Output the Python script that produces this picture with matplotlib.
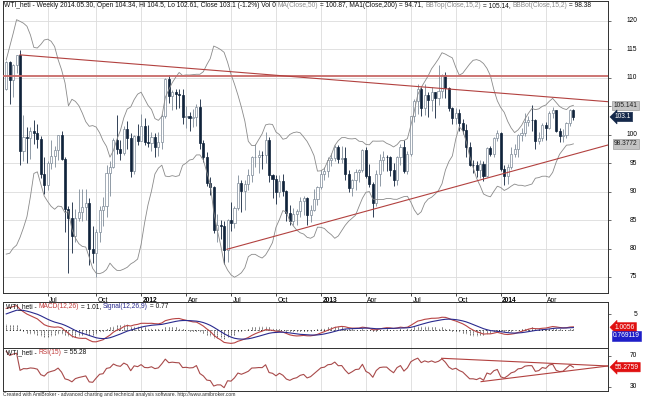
import numpy as np
import pandas as pd
import matplotlib
matplotlib.use("Agg")
import matplotlib.pyplot as plt
import matplotlib.transforms as mtransforms

plt.rcParams['font.family'] = ['Liberation Sans', 'DejaVu Sans']

# weekly WTI bars, 2011-04-08 .. 2014-05-30
first_week = "2011-04-08"

# earlier weeks (Jul 2010 - Apr 2011), only used to warm up the indicators
warmup_close = [72.14, 76.09, 76.01, 78.98, 78.95, 80.70, 75.39, 73.46, 75.17, 74.60,
                76.45, 73.66, 76.49, 81.58, 82.66, 81.25, 81.69, 81.43, 86.85, 84.88,
                81.51, 83.76, 89.19, 87.79, 88.02, 91.00, 91.38, 88.03, 91.54, 89.11,
                89.34, 89.03, 85.58, 86.20, 97.88, 104.42, 101.16, 101.07, 105.40, 107.94]

bar_close = [112.79, 109.66, 112.29, 113.93, 97.18, 99.65, 99.49, 100.59, 100.22, 99.29,
             93.01, 91.16, 94.94, 96.20, 97.24, 99.87, 95.70, 86.88, 85.38, 82.26,
             85.37, 86.45, 87.24, 87.96, 79.85, 79.20, 82.98, 86.80, 87.40, 93.32,
             94.26, 98.99, 97.41, 96.77, 100.96, 99.41, 93.53, 99.68, 98.83,
             101.56, 98.70, 98.46, 99.56, 97.84, 98.67, 103.24, 109.77, 106.70, 107.40,
             107.06, 106.87, 103.02, 103.31, 102.83, 103.05, 104.93, 98.49, 96.13, 91.48,
             90.86, 83.23, 84.10, 84.03, 79.76, 84.96, 84.45, 87.10, 91.44, 90.13,
             91.40, 92.87, 96.01, 96.15, 96.47, 96.42, 99.00, 92.89, 92.19, 89.88,
             91.86, 90.05, 86.28, 84.86, 86.07, 86.67, 88.28, 88.91, 85.93, 86.73,
             88.66, 90.80,
             93.09, 93.56, 95.56, 95.88, 97.77, 95.72, 95.86, 93.13, 90.68, 91.95,
             93.45, 93.71, 97.23, 92.70, 91.29, 88.01, 93.00, 95.61, 96.04, 96.02,
             93.84, 91.97, 96.03, 97.85, 93.69, 96.56, 103.22, 105.95, 108.05, 104.70,
             106.94, 106.03, 107.46, 106.42, 107.65, 110.53, 108.21, 104.67, 102.87, 103.84,
             102.02, 100.81, 97.85, 94.61, 94.60, 93.84, 94.84, 92.72, 97.65, 96.60,
             99.32, 100.32,
             93.96, 92.72, 94.37, 96.64, 97.49, 99.88, 100.30, 102.20, 102.59, 102.58,
             98.89, 99.46, 101.67, 101.14, 103.74, 104.30, 100.60, 99.76, 99.99, 102.02,
             104.35, 103.10]

bar_open = [108.00, 112.79, 109.66, 112.29, 113.93, 97.18, 99.65, 99.49, 100.59, 100.22,
            99.29, 93.01, 91.16, 94.94, 96.20, 97.24, 99.87, 95.70, 86.88, 85.38,
            82.26, 85.37, 86.45, 87.24, 87.96, 79.85, 79.20, 82.98, 86.80, 87.40,
            93.32, 94.26, 98.99, 97.41, 96.77, 100.96, 99.41, 93.53, 99.68,
            98.83, 101.56, 98.70, 98.46, 99.56, 97.84, 98.67, 103.24, 109.77, 106.70,
            107.40, 107.06, 106.87, 103.02, 103.31, 102.83, 103.05, 104.93, 98.49, 96.13,
            91.48, 90.86, 83.23, 84.10, 84.03, 79.76, 84.96, 84.45, 87.10, 91.44,
            90.13, 91.40, 92.87, 96.01, 96.15, 96.47, 96.42, 99.00, 92.89, 92.19,
            89.88, 91.86, 90.05, 86.28, 84.86, 86.07, 86.67, 88.28, 88.91, 85.93,
            86.73, 88.66,
            90.80, 93.09, 93.56, 95.56, 95.88, 97.77, 95.72, 95.86, 93.13, 90.68,
            91.95, 93.45, 93.71, 97.23, 92.70, 91.29, 88.01, 93.00, 95.61, 96.04,
            96.02, 93.84, 91.97, 96.03, 97.85, 93.69, 96.56, 103.22, 105.95, 108.05,
            104.70, 106.94, 106.03, 107.46, 106.42, 107.65, 110.53, 108.21, 104.67, 102.87,
            103.84, 102.02, 100.81, 97.85, 94.61, 94.60, 93.84, 94.84, 92.72, 97.65,
            96.60, 99.32,
            100.32, 93.96, 92.72, 94.37, 96.64, 97.49, 99.88, 100.30, 102.20, 102.59,
            102.58, 98.89, 99.46, 101.67, 101.14, 103.74, 104.30, 100.60, 99.76, 99.99,
            102.02, 104.34]

bar_high = [112.9, 113.0, 112.4, 114.0, 114.8, 103.4, 101.4, 101.4, 102.5, 101.8,
            99.8, 96.0, 95.4, 99.0, 98.0, 100.0, 100.6, 96.0, 87.5, 88.2,
            86.9, 90.5, 90.5, 90.5, 88.9, 84.0, 83.4, 87.5, 89.0, 94.7,
            95.4, 99.4, 103.4, 99.0, 101.5, 102.4, 100.3, 100.0, 101.8,
            103.7, 103.0, 101.7, 100.5, 100.3, 100.4, 103.7, 109.9, 110.55, 107.9,
            108.0, 108.0, 108.0, 105.0, 104.0, 104.5, 105.3, 106.3, 99.0, 96.9,
            92.6, 91.0, 86.0, 85.0, 84.9, 85.1, 88.2, 87.5, 92.9, 92.0,
            92.0, 94.0, 96.3, 98.3, 97.3, 97.2, 100.4, 99.5, 93.1, 92.9,
            92.9, 93.0, 90.3, 87.7, 87.2, 87.0, 89.0, 89.3, 89.0, 87.7,
            90.5, 91.0,
            93.8, 94.4, 96.1, 96.8, 98.2, 98.2, 98.0, 97.8, 93.7, 92.2,
            94.0, 94.0, 97.4, 97.8, 94.8, 91.7, 93.7, 96.6, 97.1, 96.5,
            96.3, 95.1, 96.2, 98.3, 99.0, 97.2, 103.3, 106.3, 108.9, 108.4,
            108.9, 107.4, 108.3, 107.5, 112.2, 110.7, 111.0, 108.3, 104.9, 104.6,
            104.5, 102.7, 101.9, 98.7, 95.6, 95.3, 95.6, 95.4, 97.9, 98.0,
            99.5, 100.8,
            100.4, 94.6, 94.9, 97.8, 98.3, 100.1, 101.1, 103.8, 103.2, 105.2,
            102.7, 100.4, 102.0, 102.2, 104.2, 104.8, 104.4, 101.2, 101.0, 102.3,
            104.5, 104.5]

bar_low = [107.8, 105.3, 106.6, 110.8, 94.6, 95.3, 95.0, 95.8, 98.4, 97.7,
           92.4, 89.6, 90.3, 94.0, 94.3, 95.5, 95.5, 82.9, 75.7, 79.2,
           81.2, 84.8, 84.8, 85.0, 77.1, 77.5, 74.95, 81.2, 84.0, 85.5,
           89.2, 94.2, 96.6, 95.5, 96.5, 97.5, 92.5, 93.1, 98.1,
           98.8, 98.1, 97.9, 97.2, 96.1, 96.3, 97.5, 103.0, 105.5, 104.3,
           104.5, 104.6, 101.8, 101.2, 100.7, 101.4, 101.5, 97.5, 95.2, 90.9,
           89.4, 82.7, 81.2, 81.7, 77.3, 77.6, 83.0, 83.6, 86.8, 86.4,
           86.7, 90.2, 91.6, 94.4, 93.3, 94.0, 95.1, 91.6, 88.9, 87.8,
           89.0, 89.3, 84.8, 84.1, 84.1, 84.1, 85.6, 85.8, 84.1, 84.7,
           86.5, 87.6,
           90.5, 92.0, 92.5, 94.5, 95.3, 95.1, 95.0, 92.0, 89.9, 89.3,
           90.2, 91.7, 93.5, 92.3, 90.8, 85.6, 87.5, 90.9, 93.6, 93.6,
           92.8, 90.9, 91.2, 94.6, 93.2, 93.0, 96.2, 102.2, 103.7, 103.3,
           103.4, 103.1, 104.2, 102.9, 105.2, 106.4, 106.4, 104.1, 101.9, 101.9,
           100.6, 100.1, 96.0, 94.5, 93.2, 92.6, 92.4, 91.8, 92.5, 96.3,
           96.0, 98.8,
           93.6, 91.2, 91.3, 93.9, 96.0, 96.1, 98.9, 99.7, 101.6, 100.6,
           97.4, 98.3, 98.8, 99.0, 100.9, 103.0, 100.5, 98.7, 98.7, 99.4,
           101.6, 102.61]

# hand drawn trend lines: (bar, value) start and end
price_down_line = [(4.0, 114.0), (174.0, 105.78)]
price_up_line = [(63.8, 79.86), (174.0, 98.18)]
price_flat_level = 110.29
rsi_down_line = [(125.9, 66.7), (174.0, 56.8)]
rsi_up_line = [(137.3, 36.7), (174.0, 56.8)]

# 105 sits under the 105.141 marker box, so it is not printed
price_ticks = [75, 80, 85, 90, 95, 100, 105, 110, 115, 120]
price_tick_text = [75, 80, 85, 90, 95, 100, 110, 115, 120]

# ---- indicators ----
n0 = len(warmup_close)
allc = pd.Series(warmup_close + bar_close)
mid = allc.rolling(15).mean()
sd = allc.rolling(15).std(ddof=0)
bb_top = (mid + 2 * sd).values[n0:]
bb_bot = (mid - 2 * sd).values[n0:]
macd_all = allc.ewm(span=12, adjust=False).mean() - allc.ewm(span=26, adjust=False).mean()
sig_all = macd_all.ewm(span=9, adjust=False).mean()
macd = macd_all.values[n0:]
signal = sig_all.values[n0:]
hist = macd - signal
delta = allc.diff().fillna(0)
gain = delta.clip(lower=0).ewm(alpha=1 / 15, adjust=False).mean()
loss = (-delta.clip(upper=0)).ewm(alpha=1 / 15, adjust=False).mean()
rsi = (100 - 100 / (1 + gain / loss)).values[n0:]

o = np.array(bar_open)
h = np.array(bar_high)
l = np.array(bar_low)
c = np.array(bar_close)
x = np.arange(len(c))
dates = pd.date_range(first_week, periods=len(c), freq="7D")

tick_pos, tick_lab = [], []
for i in range(1, len(dates)):
    if dates[i].month != dates[i - 1].month and dates[i].month in (1, 4, 7, 10):
        tick_pos.append(i)
        tick_lab.append(str(dates[i].year) if dates[i].month == 1 else dates[i].strftime("%b"))

# ---- layout ----
W, H = 645, 399
fig = plt.figure(figsize=(6.45, 3.99), dpi=100)
fig.patch.set_facecolor("white")
FS = 4.8
XL = (-0.84, 174.0)


def panel(top, bottom):
    a = fig.add_axes([3.3 / W, 1 - bottom / H, (608 - 3.3) / W, (bottom - top) / H])
    a.set_xlim(*XL)
    a.set_xticks(tick_pos)
    a.grid(True, axis="x", color="#dcdcdc", lw=0.6)
    a.set_axisbelow(True)
    for s in a.spines.values():
        s.set_color("#303030")
        s.set_linewidth(0.7)
    a.tick_params(axis="y", left=False, labelleft=False, right=True, labelright=False,
                  direction="out", length=2, width=0.5, color="#303030")
    return a


ax = panel(0.5, 292.7)
axm = panel(301.7, 348.3)
axr = panel(348.3, 391)

# main price panel
ax.set_ylim(72.24, 123.55)
ax.set_yticks(price_ticks)
ax.grid(True, axis="y", color="#dcdcdc", lw=0.6)
ax.set_xticklabels(tick_lab)
ax.tick_params(axis="x", direction="out", length=2.5, width=0.5, pad=0.3, labelsize=FS)
shift = mtransforms.ScaledTranslation(1.5 / 100, 0, fig.dpi_scale_trans)
for lbl, txt in zip(ax.get_xticklabels(), tick_lab):
    lbl.set_ha("left")
    lbl.set_transform(lbl.get_transform() + shift)
    if txt.isdigit():
        lbl.set_fontweight("bold")

upc, dnc = "#7d8a98", "#10233b"
up = c >= o
ax.vlines(x[up], l[up], h[up], color=upc, lw=0.6, zorder=2)
ax.vlines(x[~up], l[~up], h[~up], color=dnc, lw=0.6, zorder=2)
ax.bar(x[up], c[up] - o[up], bottom=o[up], width=0.6, color="white", edgecolor=upc, lw=0.5, zorder=3)
ax.bar(x[~up], c[~up] - o[~up], bottom=o[~up], width=0.6, color=dnc, edgecolor=dnc, lw=0.5, zorder=3)

ax.plot(x, bb_top, color="#8a8a8a", lw=0.6, zorder=4)
ax.plot(x, bb_bot, color="#8a8a8a", lw=0.6, zorder=4)

tl_col = "#b2413f"
ax.axhline(price_flat_level, color="#c86a68", lw=1.3, zorder=4)
ax.plot(*zip(*price_down_line), color=tl_col, lw=0.8, zorder=4)
ax.plot(*zip(*price_up_line), color=tl_col, lw=0.8, zorder=4)

ytr = ax.get_yaxis_transform()
for v in price_tick_text:
    ax.text(1 + 29 / 604.7, v, str(v), transform=ytr, ha="right", va="center", fontsize=FS, clip_on=False)

box_kw = dict(transform=ytr, ha="left", va="center", fontsize=FS, clip_on=False, zorder=10)
ax.text(1 + 5.5 / 604.7, bb_top[-1], "105.141", color="#202020",
        bbox=dict(boxstyle="square,pad=0.18", fc="#c4c4c4", ec="#8a8a8a", lw=0.4), **box_kw)
ax.text(1 + 6 / 604.7, bb_bot[-1], "98.3772", color="#202020",
        bbox=dict(boxstyle="square,pad=0.18", fc="#c4c4c4", ec="#8a8a8a", lw=0.4), **box_kw)
ax.text(1 + 7 / 604.7, c[-1], "103.1", color="white",
        bbox=dict(boxstyle="larrow,pad=0.18", fc="#14284a", ec="#14284a", lw=0.4), **box_kw)

# MACD panel
axm.set_ylim(-5.83, 9.01)
axm.set_yticks([5])
axm.set_xticklabels([])
axm.tick_params(axis="x", length=0)
axm.plot([x[0], x[-1]], [0, 0], color="#202020", lw=0.7, ls=(0, (1, 2.4)), zorder=2)
axm.vlines(x, 0, hist, color="#202020", lw=0.7, linestyles=(0, (1, 1)), zorder=2)
axm.plot(x, macd, color="#b84444", lw=0.8, zorder=3)
axm.plot(x, signal, color="#2a2a8e", lw=0.8, zorder=3)
mtr = axm.get_yaxis_transform()
axm.text(1 + 29 / 604.7, 5, "5", transform=mtr, ha="right", va="center", fontsize=FS, clip_on=False)
axm.text(1 + 7 / 604.7, 0.85, "1.0056", transform=mtr, ha="left", va="center", fontsize=FS,
         color="white", clip_on=False, zorder=10,
         bbox=dict(boxstyle="larrow,pad=0.18", fc="#e01010", ec="#e01010", lw=0.4))
axm.text(1 + 5 / 604.7, -1.85, "0.769119", transform=mtr, ha="left", va="center", fontsize=FS,
         color="white", clip_on=False, zorder=10,
         bbox=dict(boxstyle="square,pad=0.18", fc="#1e1ec8", ec="#1e1ec8", lw=0.4))

# RSI panel
axr.set_ylim(24.7, 79.5)
axr.set_yticks([30, 70])
axr.set_xticklabels([])
axr.tick_params(axis="x", length=0)
axr.plot(x, rsi, color="#a84a4a", lw=0.8, zorder=3)
axr.plot(*zip(*rsi_down_line), color=tl_col, lw=0.8, zorder=3)
axr.plot(*zip(*rsi_up_line), color=tl_col, lw=0.8, zorder=3)
rtr = axr.get_yaxis_transform()
for v in (70, 30):
    axr.text(1 + 29 / 604.7, v, str(v), transform=rtr, ha="right", va="center", fontsize=FS, clip_on=False)
axr.text(1 + 7 / 604.7, rsi[-1], "55.2759", transform=rtr, ha="left", va="center", fontsize=FS,
         color="white", clip_on=False, zorder=10,
         bbox=dict(boxstyle="larrow,pad=0.18", fc="#e01010", ec="#e01010", lw=0.4))

# ---- titles ----
renderer = fig.canvas.get_renderer()


def text_w(s, size):
    t1 = fig.text(0, 0, s + "|", fontsize=size)
    t2 = fig.text(0, 0, "|", fontsize=size)
    w = t1.get_window_extent(renderer).width - t2.get_window_extent(renderer).width
    t1.remove()
    t2.remove()
    return w


def title_line(xp, yp, parts, size=FS):
    for s, col in parts:
        fig.text(xp / W, 1 - yp / H, s, color=col, fontsize=size, ha="left", va="center", zorder=20)
        xp += text_w(s, size)


blk, gry = "#101010", "#8c8c8c"
title_line(4, 5.5, [("WTI_heti - Weekly 2014.05.30, Open 104.34, Hi 104.5, Lo 102.61, Close 103.1 (-1.2%) Vol 0 ", blk),
                    ("MA(Close,50)", gry), (" = 100.87, MA1(Close,200) = 94.71, ", blk),
                    ("BBTop(Close,15,2)", gry), (" = 105.14, ", blk),
                    ("BBBot(Close,15,2)", gry), (" = 98.38", blk)])
title_line(6, 306.5, [("WTI_heti - ", blk), ("MACD(12,26)", "#c03a3a"), (" = 1.01, ", blk),
                      ("Signal(12,26,9)", "#2a2a8e"), (" = 0.77", blk)])
title_line(6, 352.5, [("WTI_heti - ", blk), ("RSI(15)", "#c03a3a"), (" = 55.28", blk)])

fig.text(3 / W, 1 - 394.5 / H,
         "Created with AmiBroker - advanced charting and technical analysis software. http://www.amibroker.com",
         fontsize=3.6, color="#303030", ha="left", va="center")

fig.savefig("out.png", dpi=100, facecolor="white")
